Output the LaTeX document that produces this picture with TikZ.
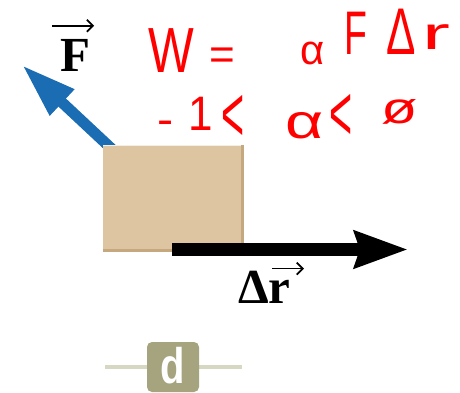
\documentclass[tikz,border=0pt]{standalone}
\usepackage{fontspec}
\usetikzlibrary{arrows.meta}
\newfontfamily\handfont{Liberation Sans}
\newfontfamily\labelfont{Liberation Serif}
\newfontfamily\badgefont{Liberation Sans}
\definecolor{forceblue}{HTML}{1A6CB3}
\definecolor{blocktan}{HTML}{DEC5A2}
\definecolor{blockedge}{HTML}{C6A87F}
\definecolor{handred}{HTML}{FF0000}
\definecolor{badgeolive}{HTML}{A6A47E}
\definecolor{badgeline}{HTML}{D6D8C2}
\begin{document}
\begin{tikzpicture}[x=1pt,y=-1pt,
  hand/.style={text=handred,inner sep=0pt,anchor=base,font=\handfont\fontsize{44}{44}\selectfont},
  veclabel/.style={inner sep=0pt,anchor=base,font=\labelfont\bfseries\fontsize{49}{49}\selectfont},
  vecarrow/.style={draw=black,line width=1.8pt,-{Straight Barb[length=6pt,width=12pt]}},
  blockbox/.style={fill=blocktan,draw=none,minimum width=141pt,minimum height=107pt,inner sep=0pt},
  bluearrow/.style={draw=forceblue,line width=11pt,-{Triangle[length=55pt,width=33pt]}},
  blackarrow/.style={draw=black,line width=13pt,-{Stealth[length=53pt,width=36pt,inset=5pt]}},
  badge/.style={fill=badgeolive,rounded corners=5pt,minimum width=52pt,minimum height=50pt,inner sep=0pt},
  badgetrack/.style={draw=badgeline,line width=4pt}
]
\useasboundingbox (0,0) rectangle (460,393);

% force arrow (behind block)
\coordinate (ftail) at (114,151);
\coordinate (ftip) at (22,65);
\draw[bluearrow] (ftail) -- (ftip);

% block
\node[blockbox] (block) at (173.5,198.5) {};
\draw[blockedge,line width=3pt] ([xshift=-1.5pt]block.north east) -- ([xshift=-1.5pt,yshift=1.5pt]block.south east) -- ([yshift=1.5pt]block.south west);
\draw[white!70!blocktan,line width=1.5pt] ([yshift=-0.75pt]block.north west) -- ([yshift=-0.75pt,xshift=-3pt]block.north east);

% displacement arrow
\coordinate (dstart) at (172,249.5);
\coordinate (dtip) at (408,249.5);
\draw[blackarrow] (dstart) -- (dtip);

% labels
\node[veclabel] (flabel) at (75,72) {F};
\draw[vecarrow] ([shift={(-8,-14)}]flabel.north west) -- ([shift={(4,-14)}]flabel.north east);
\node[veclabel] (deltalabel) at (254,303) {Δ};
\node[veclabel] (rlabel) at (279,303) {r};
\draw[vecarrow] ([shift={(-7,-11)}]rlabel.north) -- ([shift={(25,-11)}]rlabel.north);

% handwritten annotation
\node[hand,xscale=1.1,yscale=1.45] (hw) at (171,73) {W};
\node[hand] (heq) at (222,70) {=};
\node[hand,scale=0.95] (halpha) at (313,65) {α};
\node[hand,xscale=0.85,yscale=1.4] (hF) at (356,55) {F};
\node[hand,yscale=1.5] (hDelta) at (401,55) {Δ};
\node[hand,xscale=1.9,yscale=1.05] (hr) at (436,50) {r};
\node[hand,xscale=1.1] (hminus) at (166,135) {-};
\node[hand,yscale=1.1] (hone) at (201,131) {1};
\node[hand,xscale=0.9,yscale=1.8] (hlt) at (233,141) {<};
\node[hand,xscale=1.5,yscale=1.1] (halphab) at (305,138) {α};
\node[hand,xscale=0.9,yscale=1.8] (hltb) at (341,140) {<};
\node[hand,xscale=1.35] (hzero) at (400,124) {ø};

% badge
\coordinate (trackl) at (105,367);
\coordinate (trackr) at (242,367);
\draw[badgetrack] (trackl) -- (trackr);
\node[badge] (badge) at (173,367) {};
\node[text=white,inner sep=0pt,anchor=base,xscale=0.8,font=\badgefont\bfseries\fontsize{50}{50}\selectfont] (dlabel) at (173,383) {d};
\end{tikzpicture}
\end{document}
